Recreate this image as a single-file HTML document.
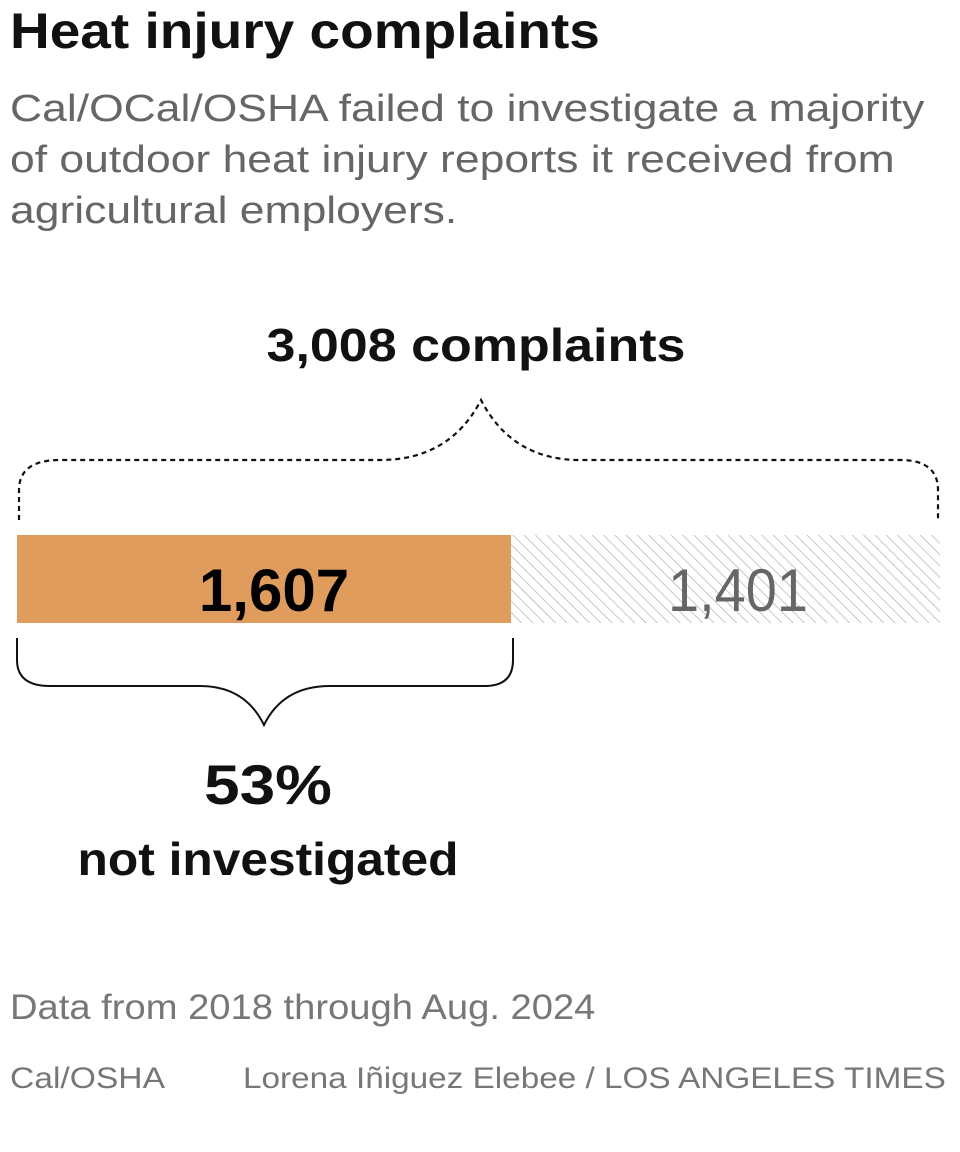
<!DOCTYPE html>
<html><head><meta charset="utf-8"><style>
body{margin:0;background:#fff;width:960px;height:1152px;overflow:hidden;font-family:"Liberation Sans",sans-serif;position:relative}
.t{position:absolute;white-space:nowrap;transform-origin:left top}
.c{position:absolute;white-space:nowrap;transform-origin:center top}
</style></head><body>
<div class="t" style="left:10px;top:2px;font-size:50px;font-weight:bold;color:#111;transform:scaleX(1.1)">Heat injury complaints</div>
<div class="t" style="left:10px;top:84px;font-size:38px;line-height:51px;color:#666;transform:scaleX(1.17)">Cal/OCal/OSHA failed to investigate a majority<br>of outdoor heat injury reports it received from<br>agricultural employers.</div>
<div class="c" style="left:0;width:952px;text-align:center;top:318px;font-size:46px;font-weight:bold;color:#111;transform:scaleX(1.13)">3,008 complaints</div>
<svg style="position:absolute;left:0;top:0" width="960" height="1152">
<defs><pattern id="h" width="8" height="8" patternUnits="userSpaceOnUse" patternTransform="rotate(-45)"><line x1="0" y1="0" x2="0" y2="8" stroke="#aaa" stroke-width="1.3"/></pattern></defs>
<path d="M19,520 L19,490 Q19,460 60,460 L380,460 Q450,460 481,400 Q512,460 580,460 L900,460 Q938,460 938,490 L938,520" fill="none" stroke="#111" stroke-width="2.2" stroke-dasharray="5,4"/>
<rect x="17" y="535" width="494" height="88" fill="#df9c5d"/>
<rect x="511" y="535" width="429" height="88" fill="url(#h)"/>
<text x="274" y="611" text-anchor="middle" font-size="60" font-weight="bold" fill="#000" font-family="Liberation Sans">1,607</text>
<text x="738" y="611" text-anchor="middle" font-size="60" fill="#666" font-family="Liberation Sans" textLength="140" lengthAdjust="spacingAndGlyphs">1,401</text>
<path d="M17,638 L17,660 Q17,686 50,686 L200,686 Q245,686 264,725 Q283,686 330,686 L485,686 Q513,686 513,660 L513,638" fill="none" stroke="#111" stroke-width="2"/>
</svg>
<div class="c" style="left:0;width:536px;text-align:center;top:752px;font-size:56px;font-weight:bold;color:#111;transform:scaleX(1.14)">53%</div>
<div class="c" style="left:0;width:536px;text-align:center;top:832px;font-size:46px;font-weight:bold;color:#111;transform:scaleX(1.08)">not investigated</div>
<div class="t" style="left:10px;top:988px;font-size:35px;color:#777;transform:scaleX(1.09)">Data from 2018 through Aug. 2024</div>
<div class="t" style="left:10px;top:1062px;font-size:30px;color:#777;transform:scaleX(1.12)">Cal/OSHA</div>
<div class="t" style="left:243px;top:1062px;font-size:30px;color:#777;transform:scaleX(1.11)">Lorena Iñiguez Elebee / LOS ANGELES TIMES</div>
</body></html>
